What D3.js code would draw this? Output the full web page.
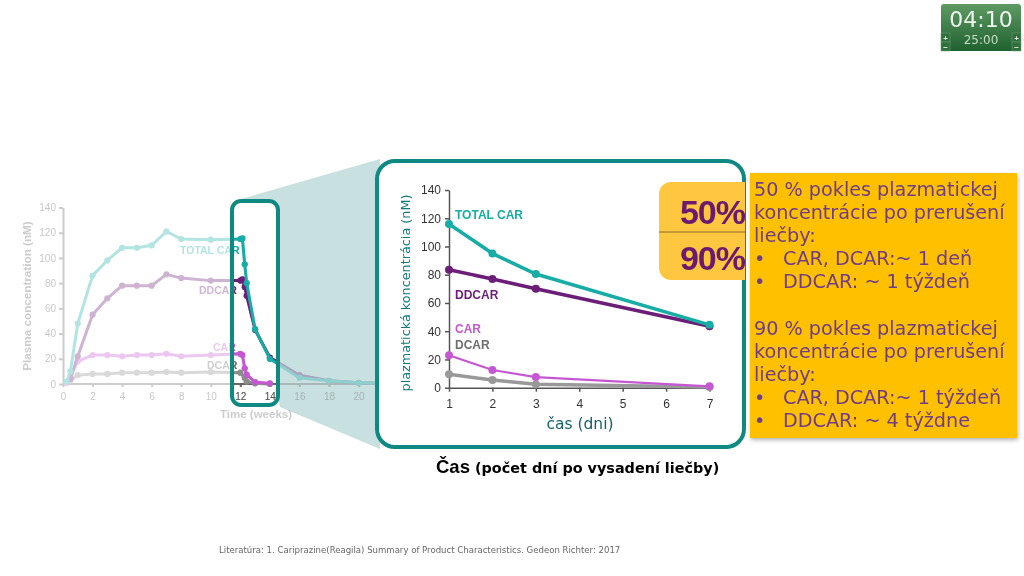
<!DOCTYPE html>
<html lang="sk">
  <head>
    <meta charset="UTF-8" />
    <title>Plazmatická koncentrácia</title>
    <script src="https://d3js.org/d3.v7.min.js"></script>
    <style>
      html, body { margin: 0; padding: 0; background: #fff; overflow: hidden; }
      svg { display: block; }
      text { font-family: "Liberation Sans", Arial, sans-serif; }
    </style>
  </head>
  <body>
    <svg width="1024" height="576"></svg>
    <script>
      // left chart, weeks
      const weeksTotal = [0.25, 0.5, 1, 2, 3, 4, 5, 6, 7, 8, 10, 12, 12.14, 12.3, 12.43, 13, 14, 16, 18, 20, 21.5];
      const valTotal = [2, 10, 48, 86, 98, 108, 108, 110, 121, 115, 114.5, 115, 115.5, 95, 80, 43.5, 20, 5, 2.5, 1, 0.5];
      const weeksDdcar = [0.5, 1, 2, 3, 4, 5, 6, 7, 8, 10, 12, 12.14, 12.3, 12.43, 13, 14, 16, 18, 20, 21.5];
      const valDdcar = [4, 22, 55, 68, 78, 78, 78, 87, 84, 82, 82, 83, 77, 70, 43, 21, 7, 2.5, 1, 0.5];
      const weeksCar = [0.25, 0.5, 1, 2, 3, 4, 5, 6, 7, 8, 10, 12, 12.14, 12.3, 12.43, 13, 14];
      const valCar = [1, 6, 18, 23, 23, 22, 23, 23, 24, 22, 23, 24, 23, 12.5, 7.5, 1.5, 0.5];
      const weeksDcar = [0.25, 0.5, 1, 2, 3, 4, 5, 6, 7, 8, 10, 12, 12.3, 12.43, 13, 14];
      const valDcar = [1, 3, 7, 8, 8, 9, 9, 9, 9.5, 9, 9.5, 9, 5, 2, 0.5, 0];
      const weekTicks = [0, 2, 4, 6, 8, 10, 12, 14, 16, 18, 20];

      // zoomed chart, days
      const days = [1, 2, 3, 7];
      const dayTicks = [1, 2, 3, 4, 5, 6, 7];
      const dayTotal = [116, 95, 80.5, 44.5];
      const dayDdcar = [83.5, 77, 70, 43.5];
      const dayCar = [23, 12.5, 7.5, 1];
      const dayDcar = [9.5, 5.5, 2.5, 0.5];
      const concTicks = [0, 20, 40, 60, 80, 100, 120, 140];

      const infoLines = [
        "50 % pokles plazmatickej", "koncentrácie po prerušení", "liečby:",
        "•|CAR, DCAR:~ 1 deň", "•|DDCAR: ~ 1 týždeň", "",
        "90 % pokles plazmatickej", "koncentrácie po prerušení", "liečby:",
        "•|CAR, DCAR:~ 1 týždeň", "•|DDCAR: ~ 4 týždne"
      ];

      const teal = "#17aca6", purple = "#6b1d78", pink = "#c558d2", grey = "#8c8c8c";
      const frame = "#0f8a82";
      const svg = d3.select("svg");

      const defs = svg.append("defs");
      const grad = defs.append("linearGradient").attr("id", "timer").attr("x1", 0).attr("x2", 0).attr("y1", 0).attr("y2", 1);
      grad.append("stop").attr("offset", 0).attr("stop-color", "#5f9a63");
      grad.append("stop").attr("offset", 1).attr("stop-color", "#1f6130");
      const shadow = defs.append("filter").attr("id", "shadow").attr("x", "-5%").attr("y", "-5%").attr("width", "110%").attr("height", "110%");
      shadow.append("feDropShadow").attr("dx", 1).attr("dy", 2).attr("stdDeviation", 2).attr("flood-color", "#000").attr("flood-opacity", 0.3);
      defs.append("clipPath").attr("id", "boxClip").append("rect")
        .attr("x", 232).attr("y", 201).attr("width", 46).attr("height", 204).attr("rx", 9);

      // zoom wedge
      svg.append("path").attr("d", "M241,199L380,159V449L280,407Z").attr("fill", "#c9e0e0");
      svg.append("rect").attr("x", 232).attr("y", 201).attr("width", 46).attr("height", 204).attr("rx", 9).attr("fill", "#fff");

      // left chart
      const xWeek = d3.scaleLinear().domain([0, 20]).range([63, 358.5]);
      const yConc = d3.scaleLinear().domain([0, 140]).range([384, 207.5]);

      function drawWeeks(g) {
        const xAxis = g.append("g").attr("transform", "translate(0,384)")
          .call(d3.axisBottom(xWeek).tickValues(weekTicks).tickSize(3).tickSizeOuter(0));
        xAxis.select(".domain").attr("d", "M63,0H376");
        const yAxis = g.append("g").attr("transform", "translate(63,0)")
          .call(d3.axisLeft(yConc).tickValues(concTicks).tickSize(4).tickSizeOuter(0));
        g.selectAll(".domain, .tick line").attr("stroke", "#666").attr("stroke-width", 2);
        g.selectAll(".tick text").attr("fill", "#555").style("font-size", "10px").style("font-family", "Liberation Sans");
        xAxis.selectAll(".tick text").attr("dy", "1em");

        const line = d3.line().x(d => xWeek(d[0])).y(d => yConc(d[1]));
        const series = [
          [weeksDcar, valDcar, grey],
          [weeksCar, valCar, pink],
          [weeksDdcar, valDdcar, purple],
          [weeksTotal, valTotal, teal]
        ];
        series.forEach(s => {
          const pts = d3.zip(s[0], s[1]);
          g.append("path").attr("d", line(pts)).attr("fill", "none").attr("stroke", s[2]).attr("stroke-width", 3);
          g.selectAll(null).data(pts).join("circle")
            .attr("cx", d => xWeek(d[0])).attr("cy", d => yConc(d[1]))
            .attr("r", 3.1).attr("fill", s[2]);
        });

        const labels = [["TOTAL CAR", 180, 254, teal], ["DDCAR", 199, 294, purple], ["CAR", 213, 351, pink], ["DCAR", 207, 369, "#6d6d6d"]];
        labels.forEach(l => {
          g.append("text").attr("x", l[1]).attr("y", l[2]).attr("fill", l[3])
            .style("font-size", "10.5px").style("font-weight", "bold").text(l[0]);
        });
        g.append("text").attr("x", 256).attr("y", 418).attr("text-anchor", "middle").attr("fill", "#666")
          .style("font-size", "11.5px").style("font-weight", "bold").text("Time (weeks)");
        g.append("text").attr("transform", "translate(31,296) rotate(-90)").attr("text-anchor", "middle").attr("fill", "#666")
          .style("font-size", "11.7px").style("font-weight", "bold").text("Plasma concentration (nM)");
      }

      drawWeeks(svg.append("g").attr("opacity", 0.33));
      drawWeeks(svg.append("g").attr("clip-path", "url(#boxClip)"));

      svg.append("rect").attr("x", 232).attr("y", 201).attr("width", 46).attr("height", 204).attr("rx", 9)
        .attr("fill", "none").attr("stroke", frame).attr("stroke-width", 4);

      // zoomed panel
      svg.append("rect").attr("x", 377).attr("y", 161).attr("width", 367).attr("height", 286).attr("rx", 18)
        .attr("fill", "#fff").attr("stroke", frame).attr("stroke-width", 4);

      const xDay = d3.scaleLinear().domain([1, 7]).range([449, 709.5]);
      const yDay = d3.scaleLinear().domain([0, 140]).range([387.7, 190]);

      const gx = svg.append("g").attr("transform", "translate(0,387.7)")
        .call(d3.axisBottom(xDay).tickValues(dayTicks).tickFormat(d3.format("d")).tickSize(4).tickSizeOuter(0));
      const gy = svg.append("g").attr("transform", "translate(449,0)")
        .call(d3.axisLeft(yDay).tickValues(concTicks).tickSize(4).tickSizeOuter(0));
      [gx, gy].forEach(a => {
        a.selectAll(".domain, .tick line").attr("stroke", "#555").attr("stroke-width", 1.5);
        a.selectAll(".tick text").attr("fill", "#333").style("font-size", "12px").style("font-family", "Liberation Sans");
      });
      gx.selectAll(".tick text").attr("dy", "1.1em");
      gy.selectAll(".tick text").attr("dx", "-1px");

      const dayLine = d3.line().x(d => xDay(d[0])).y(d => yDay(d[1]));
      [[dayDcar, "#999", 3.5, 4], [dayCar, pink, 2.2, 4], [dayDdcar, purple, 3.6, 4], [dayTotal, teal, 3.6, 4]].forEach(s => {
        const pts = d3.zip(days, s[0]);
        svg.append("path").attr("d", dayLine(pts)).attr("fill", "none").attr("stroke", s[1]).attr("stroke-width", s[2]);
        svg.selectAll(null).data(pts).join("circle")
          .attr("cx", d => xDay(d[0])).attr("cy", d => yDay(d[1])).attr("r", s[3]).attr("fill", s[1]);
      });

      [["TOTAL CAR", 219, teal], ["DDCAR", 299, purple], ["CAR", 333, pink], ["DCAR", 349, "#6d6d6d"]].forEach(l => {
        svg.append("text").attr("x", 455).attr("y", l[1]).attr("fill", l[2])
          .style("font-size", "12px").style("font-weight", "bold").text(l[0]);
      });

      svg.append("text").attr("transform", "translate(410,293) rotate(-90)").attr("text-anchor", "middle")
        .attr("fill", "#117a7a").style("font-family", "DejaVu Sans").style("font-size", "12.8px")
        .text("plazmatická koncentrácia (nM)");
      svg.append("text").attr("x", 580).attr("y", 429).attr("text-anchor", "middle")
        .attr("fill", "#17606b").style("font-family", "DejaVu Sans").style("font-size", "15.5px")
        .text("čas (dni)");

      // 50 / 90 badge
      svg.append("path").attr("d", "M745,182H671a12,12 0 0 0 -12,12V268a12,12 0 0 0 12,12H745Z").attr("fill", "#ffc73f");
      svg.append("line").attr("x1", 659).attr("x2", 745).attr("y1", 232).attr("y2", 232).attr("stroke", "#6b5528").attr("stroke-width", 0.8);
      [["50%", 224], ["90%", 270]].forEach(t => {
        svg.append("text").attr("x", 745).attr("y", t[1]).attr("text-anchor", "end").attr("fill", "#6a1b6f")
          .style("font-size", "34px").style("font-weight", "bold").style("letter-spacing", "-1px").text(t[0]);
      });

      // info panel
      svg.append("rect").attr("x", 750).attr("y", 173).attr("width", 267).attr("height", 265)
        .attr("fill", "#ffc000").attr("filter", "url(#shadow)");
      infoLines.forEach((t, i) => {
        const y = 196 + i * 23.1;
        const parts = t.split("|");
        const addText = (x, s) => svg.append("text").attr("x", x).attr("y", y).attr("fill", "#6f3c8c")
          .style("font-family", "DejaVu Sans").style("font-size", "19.2px").text(s);
        if (parts.length > 1) {
          addText(754, parts[0]);
          addText(783, parts[1]);
        } else {
          addText(754, t);
        }
      });

      // caption + footer
      const cap = svg.append("text").attr("x", 436).attr("y", 473).attr("fill", "#000");
      cap.append("tspan").style("font-size", "18.5px").style("font-weight", "bold").text("Čas");
      cap.append("tspan").attr("dx", 5).style("font-family", "DejaVu Sans").style("font-size", "14.4px").style("font-weight", "bold")
        .text("(počet dní po vysadení liečby)");
      svg.append("text").attr("x", 219).attr("y", 553).attr("fill", "#666")
        .style("font-family", "DejaVu Sans").style("font-size", "8.55px")
        .text("Literatúra: 1. Cariprazine(Reagila) Summary of Product Characteristics. Gedeon Richter: 2017");

      // timer widget
      svg.append("rect").attr("x", 941).attr("y", 4).attr("width", 80).attr("height", 47).attr("rx", 3).attr("fill", "url(#timer)");
      svg.append("text").attr("x", 981).attr("y", 27).attr("text-anchor", "middle").attr("fill", "#eef5ee")
        .style("font-family", "DejaVu Sans").style("font-size", "22px").text("04:10");
      svg.append("text").attr("x", 981).attr("y", 44).attr("text-anchor", "middle").attr("fill", "#c5dcc5")
        .style("font-family", "DejaVu Sans").style("font-size", "12px").text("25:00");
      [[941, 33, "+"], [941, 42, "−"], [1012, 33, "+"], [1012, 42, "−"]].forEach(b => {
        svg.append("rect").attr("x", b[0]).attr("y", b[1]).attr("width", 9).attr("height", 9)
          .attr("fill", "#2f6f3c").attr("stroke", "#6fa077").attr("stroke-width", 0.5);
        svg.append("text").attr("x", b[0] + 4.5).attr("y", b[1] + 7.5).attr("text-anchor", "middle").attr("fill", "#e4f0e4")
          .style("font-size", "8px").style("font-weight", "bold").text(b[2]);
      });
    </script>
  </body>
</html>
